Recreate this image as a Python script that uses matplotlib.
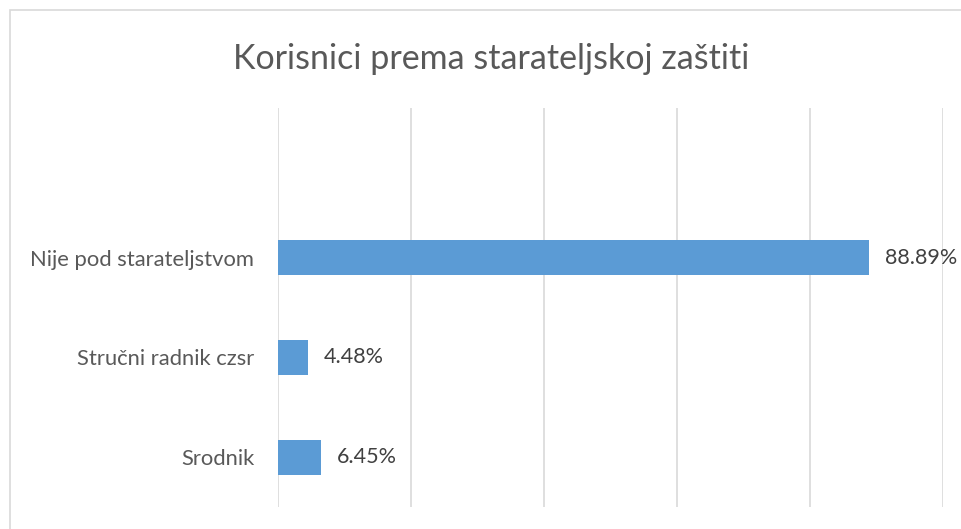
import matplotlib.pyplot as plt
from matplotlib.patches import Rectangle

# data
categories = ['Srodnik', 'Stručni radnik czsr', 'Nije pod starateljstvom']
values = [6.45, 4.48, 88.89]
value_labels = ['6.45%', '4.48%', '88.89%']

plt.rcParams['font.family'] = ['Lato', 'DejaVu Sans']

fig = plt.figure(figsize=(9.61, 5.29), dpi=100)
ax = fig.add_axes([0.2893, 0.0416, 0.692, 0.7543])

# chart border (cropped at right/bottom like the source)
fig.patches.append(Rectangle((10 / 961, -0.1), 2, 1.1 - 10 / 529,
                             transform=fig.transFigure, fill=False,
                             edgecolor='#D9D9D9', linewidth=1.2))

ypos = list(range(len(categories)))
ax.barh(ypos, values, height=0.35, color='#5B9BD5', zorder=3)

for y, v, lab in zip(ypos, values, value_labels):
    ax.text(v + 2.4, y, lab, va='center', ha='left', fontsize=15.5, color='#404040')

ax.set_xlim(0, 100)
ax.set_ylim(-0.5, 3.5)
ax.set_xticks([0, 20, 40, 60, 80, 100])
ax.set_xticklabels([])
ax.tick_params(axis='x', length=0)
ax.set_yticks(ypos)
ax.set_yticklabels(categories, fontsize=15.8, color='#595959')
ax.tick_params(axis='y', length=0, pad=17)
ax.grid(axis='x', color='#D9D9D9', linewidth=1.2, zorder=0)
for s in ax.spines.values():
    s.set_visible(False)

fig.text(0.511, 0.889, 'Korisnici prema starateljskoj zaštiti', ha='center', va='center',
         fontsize=24.5, color='#595959')

fig.savefig('out.png', dpi=100)
